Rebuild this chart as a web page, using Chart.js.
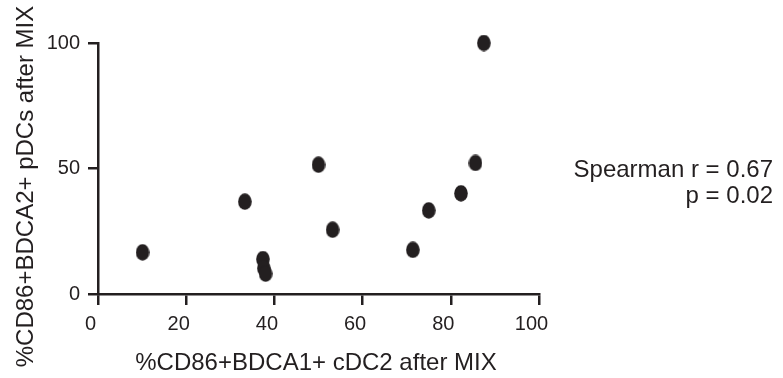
<!DOCTYPE html>
<html>
<head>
<meta charset="utf-8">
<script src="https://cdn.jsdelivr.net/npm/chart.js@4"></script>
<style>
html,body{margin:0;padding:0;background:#fff;}
#wrap{position:relative;width:783px;height:378px;}
</style>
</head>
<body>
<div id="wrap"><canvas id="c" width="783" height="378"></canvas></div>
<script>
// Data
const cdc2Values = [10.1, 33.3, 37.4, 37.6, 38.0, 50.0, 53.2, 71.4, 75.0, 82.3, 85.6, 87.5];
const pdcValues  = [16.6, 36.8, 13.9, 10.3, 8.1, 51.5, 25.6, 17.6, 33.3, 40.1, 52.2, 100];
const xTickValues = [0, 20, 40, 60, 80, 100];
const yTickValues = [0, 50, 100];
const xTitle = "%CD86+BDCA1+ cDC2 after MIX";
const yTitle = "%CD86+BDCA2+ pDCs after MIX";
const statLines = ["Spearman r = 0.67", "p = 0.02"];

const INK = '#231f20';
const FONT = '"Liberation Sans", Arial, Helvetica, sans-serif';

// elliptical marker
const marker = document.createElement('canvas');
marker.width = 14; marker.height = 17;
(function(){
  const m = marker.getContext('2d');
  m.fillStyle = INK;
  m.beginPath();
  m.ellipse(7, 8.5, 6.8, 8.2, 0, 0, Math.PI * 2);
  m.fill();
})();

const points = cdc2Values.map((x, i) => ({x: x, y: pdcValues[i]}));

const textPlugin = {
  id: 'texts',
  afterDraw(chart) {
    const ctx = chart.ctx;
    ctx.save();
    ctx.fillStyle = INK;
    ctx.font = '24px ' + FONT;
    // x title
    ctx.textAlign = 'center';
    ctx.textBaseline = 'alphabetic';
    ctx.fillText(xTitle, 316, 370);
    // y title
    ctx.save();
    ctx.translate(33, 186.5);
    ctx.rotate(-Math.PI / 2);
    ctx.fillText(yTitle, 0, 0);
    ctx.restore();
    // statistics
    ctx.textAlign = 'right';
    ctx.fillText(statLines[0], 773, 177);
    ctx.fillText(statLines[1], 773, 203);
    ctx.restore();
  }
};

new Chart(document.getElementById('c'), {
  type: 'scatter',
  data: {
    datasets: [{
      data: points,
      pointStyle: marker,
      pointRadius: 8,
      pointHoverRadius: 8,
      backgroundColor: INK,
      borderColor: INK,
      clip: false
    }]
  },
  options: {
    responsive: false,
    animation: false,
    events: [],
    layout: { padding: { left: 0, right: 244, top: 43, bottom: 0 } },
    plugins: { legend: { display: false }, tooltip: { enabled: false } },
    scales: {
      x: {
        type: 'linear',
        min: 0, max: 100,
        afterBuildTicks: s => { s.ticks = xTickValues.map(v => ({value: v})); },
        afterFit: s => { s.height = 84; },
        grid: { display: true, drawOnChartArea: false, drawTicks: true, tickLength: 11, color: INK, lineWidth: 2.5 },
        border: { display: true, color: INK, width: 2.5 },
        ticks: { color: INK, font: { family: FONT, size: 20 }, padding: 7, labelOffset: -7.5, maxRotation: 0, autoSkip: false }
      },
      y: {
        type: 'linear',
        min: 0, max: 100,
        afterBuildTicks: s => { s.ticks = yTickValues.map(v => ({value: v})); },
        afterFit: s => { s.width = 98; },
        grid: { display: true, drawOnChartArea: false, drawTicks: true, tickLength: 10, color: INK, lineWidth: 2.5 },
        border: { display: true, color: INK, width: 2.5 },
        ticks: { color: INK, font: { family: FONT, size: 20 }, padding: 8, autoSkip: false }
      }
    }
  },
  plugins: [textPlugin]
});
</script>
</body>
</html>
